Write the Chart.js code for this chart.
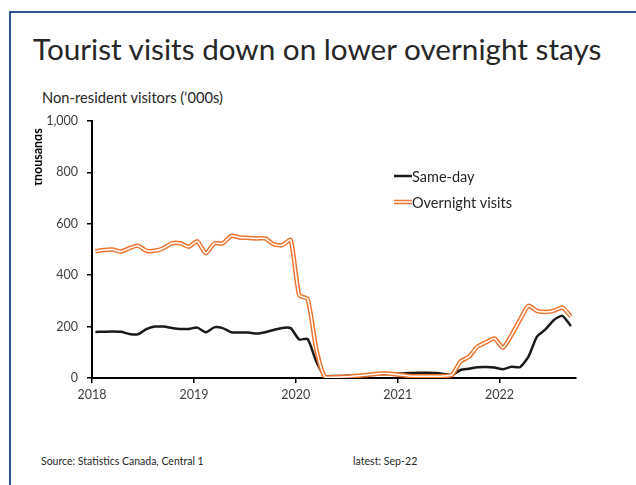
<!DOCTYPE html>
<html>
<head>
<meta charset="utf-8">
<script src="https://cdn.jsdelivr.net/npm/chart.js@4.4.0/dist/chart.umd.min.js"></script>
<style>
  html, body { margin: 0; padding: 0; background: #fff; }
  #wrap { position: relative; width: 636px; height: 485px; overflow: hidden; background: #fff; font-family: Lato, "Open Sans", sans-serif; }
  .frameTop { position: absolute; left: 9px; top: 11px; width: 627px; height: 2px; background: #2f5496; }
  .frameLeft { position: absolute; left: 9px; top: 11px; width: 2px; height: 474px; background: #2f5496; }
  .txt { position: absolute; white-space: nowrap; line-height: 1; }
  #title { left: 33px; top: 34px; font-size: 29.7px; color: #262626; }
  #sub { left: 42px; top: 90px; font-size: 14.7px; color: #262626; }
  #src { left: 41px; top: 455.5px; font-size: 10.5px; color: #262626; }
  #latest { left: 353px; top: 455.5px; font-size: 10.6px; color: #262626; }
  canvas { position: absolute; left: 0; top: 0; }
</style>
</head>
<body>
<div id="wrap">
  <div class="frameTop"></div>
  <div class="frameLeft"></div>
  <div class="txt" id="title">Tourist visits down on lower overnight stays</div>
  <div class="txt" id="sub">Non-resident visitors (‘000s)</div>
  <div class="txt" id="src">Source: Statistics Canada, Central 1</div>
  <div class="txt" id="latest">latest: Sep-22</div>
  <canvas id="c" width="636" height="485"></canvas>
</div>
<script>
const months = [
  '2018-01','2018-02','2018-03','2018-04','2018-05','2018-06','2018-07','2018-08','2018-09','2018-10','2018-11','2018-12',
  '2019-01','2019-02','2019-03','2019-04','2019-05','2019-06','2019-07','2019-08','2019-09','2019-10','2019-11','2019-12',
  '2020-01','2020-02','2020-03','2020-04','2020-05','2020-06','2020-07','2020-08','2020-09','2020-10','2020-11','2020-12',
  '2021-01','2021-02','2021-03','2021-04','2021-05','2021-06','2021-07','2021-08','2021-09','2021-10','2021-11','2021-12',
  '2022-01','2022-02','2022-03','2022-04','2022-05','2022-06','2022-07','2022-08','2022-09'
];
const sameDay = [
  179, 180, 181, 180, 171, 170, 190, 200, 200, 195, 191, 191,
  196, 178, 197, 194, 178, 177, 177, 173, 178, 187, 195, 194,
  150, 152, 65, 8, 8, 8, 9, 10, 12, 14, 15, 16,
  18, 19, 20, 20, 19, 16, 12, 31, 36, 42, 43, 41,
  34, 44, 42, 83, 161, 189, 226, 242, 202
];
const overnight = [
  493, 498, 500, 492, 505, 515, 495, 495, 505, 524, 524, 511,
  532, 485, 524, 524, 553, 547, 545, 543, 543, 520, 517, 537,
  322, 307, 115, 5, 3, 4, 6, 9, 12, 16, 18, 16,
  12, 8, 7, 7, 7, 8, 12, 64, 83, 122, 139, 154,
  118, 167, 226, 281, 261, 257, 262, 274, 239
];
const yearTicks = [2018, 2019, 2020, 2021, 2022];
const yTicks = [0, 200, 400, 600, 800, 1000];
const seriesNames = ['Same-day', 'Overnight visits'];
const axisNote = 'thousands';

function toX(m) {
  const [y, mo] = m.split('-').map(Number);
  return y + (mo - 1 + 0.4) / 12;
}
function pts(vals) { return vals.map((v, i) => ({ x: toX(months[i]), y: v })); }

const FONT = 'Lato, "Open Sans", sans-serif';
const ORANGE = '#ee7530';

const extras = {
  id: 'extras',
  afterDraw(chart) {
    const ctx = chart.ctx;
    const a = chart.chartArea;
    // rotated, clipped axis note
    ctx.save();
    ctx.beginPath();
    ctx.rect(35, a.top - 5, 20, 90);
    ctx.clip();
    ctx.translate(42, a.top + 36);
    ctx.rotate(-Math.PI / 2);
    ctx.font = 'bold 12.5px ' + FONT;
    ctx.fillStyle = '#000';
    ctx.textAlign = 'center';
    ctx.textBaseline = 'alphabetic';
    ctx.fillText(axisNote, 0, 0);
    ctx.restore();

    // legend
    ctx.save();
    const lx = a.left + 302, ly1 = a.top + 55, ly2 = a.top + 81;
    ctx.lineCap = 'butt';
    ctx.strokeStyle = '#1a1a1a'; ctx.lineWidth = 2.5;
    ctx.beginPath(); ctx.moveTo(lx, ly1); ctx.lineTo(lx + 18, ly1); ctx.stroke();
    ctx.strokeStyle = ORANGE; ctx.lineWidth = 4.5;
    ctx.beginPath(); ctx.moveTo(lx, ly2); ctx.lineTo(lx + 18, ly2); ctx.stroke();
    ctx.strokeStyle = '#fff'; ctx.lineWidth = 1.5;
    ctx.beginPath(); ctx.moveTo(lx - 1, ly2); ctx.lineTo(lx + 19, ly2); ctx.stroke();
    ctx.font = '14.5px ' + FONT;
    ctx.fillStyle = '#262626';
    ctx.textAlign = 'left';
    ctx.textBaseline = 'middle';
    ctx.fillText(seriesNames[0], lx + 18, ly1 + 1);
    ctx.fillText(seriesNames[1], lx + 18, ly2 + 1);
    ctx.restore();
  }
};

const tickFont = { family: FONT, size: 12.5 };
new Chart(document.getElementById('c'), {
  type: 'line',
  data: {
    datasets: [
      { label: seriesNames[1], data: pts(overnight), borderColor: '#ffffff', borderWidth: 1.5, order: 0, pointRadius: 0, tension: 0.2, fill: false },
      { label: seriesNames[1], data: pts(overnight), borderColor: ORANGE, borderWidth: 4.5, order: 1, pointRadius: 0, tension: 0.2, fill: false },
      { label: seriesNames[0], data: pts(sameDay), borderColor: '#1a1a1a', borderWidth: 2.5, order: 2, pointRadius: 0, tension: 0.2, fill: false }
    ]
  },
  options: {
    responsive: false,
    animation: false,
    devicePixelRatio: 1,
    layout: { padding: { left: 0, top: 121, right: 60, bottom: 77 } },
    plugins: { legend: { display: false }, tooltip: { enabled: false }, title: { display: false } },
    scales: {
      x: {
        type: 'linear', min: 2018, max: 2022.75,
        afterBuildTicks: s => { s.ticks = yearTicks.map(v => ({ value: v })); },
        afterFit: s => { s.height = 30; },
        grid: { display: true, drawOnChartArea: false, drawTicks: true, tickLength: 5, color: '#000', lineWidth: 1.5 },
        border: { display: true, color: '#000', width: 2 },
        ticks: { callback: v => String(v), font: tickFont, color: '#404040', padding: 4, maxRotation: 0, autoSkip: false }
      },
      y: {
        min: 0, max: 1000,
        afterBuildTicks: s => { s.ticks = yTicks.map(v => ({ value: v })); },
        afterFit: s => { s.width = 92; },
        grid: { display: true, drawOnChartArea: false, drawTicks: true, tickLength: 5, color: '#000', lineWidth: 1.5 },
        border: { display: true, color: '#000', width: 2 },
        ticks: { callback: v => v.toLocaleString('en-US'), font: tickFont, color: '#404040', padding: 9 }
      }
    }
  },
  plugins: [extras]
});
</script>
</body>
</html>
